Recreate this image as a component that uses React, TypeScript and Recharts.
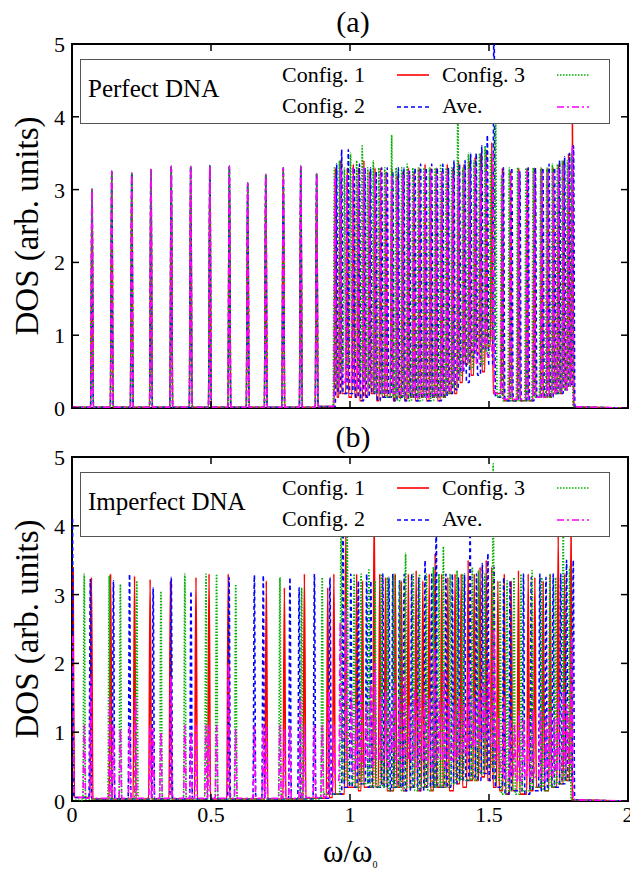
import React from "react";
import { LineChart, Line, XAxis, YAxis, ReferenceArea } from "recharts";

// [position (ω/ω0), peak height, floor after the peak]
type Peak = [number, number, number];

const xTicks = [0, 0.5, 1, 1.5, 2];
const yTicks = [0, 1, 2, 3, 4, 5];

// (a) perfect DNA: the low band is the same for every configuration
const perfectLow: Peak[] = [
  [0.072, 3.01, 0.01], [0.143, 3.25, 0.01], [0.215, 3.23, 0.01], [0.284, 3.28, 0.01],
  [0.357, 3.32, 0.01], [0.427, 3.32, 0.01], [0.496, 3.33, 0.01], [0.566, 3.32, 0.01],
  [0.632, 3.09, 0.01], [0.697, 3.21, 0.01], [0.76, 3.3, 0.01], [0.823, 3.32, 0.01],
  [0.88, 3.22, 0.02],
];

const perfectC1: Peak[] = [
  [0.948, 3.3, 0.15], [0.965, 3.4, 0.2], [0.99, 3.3, 0.15], [1.012, 3.35, 0.15],
  [1.03, 3.3, 0.1], [1.05, 3.4, 0.15], [1.07, 3.25, 0.2], [1.09, 3.3, 0.1],
  [1.11, 3.3, 0.15], [1.13, 3.25, 0.15], [1.15, 3.3, 0.1], [1.17, 3.2, 0.15],
  [1.19, 3.25, 0.1], [1.21, 3.3, 0.15], [1.23, 3.25, 0.1], [1.25, 3.3, 0.15],
  [1.27, 3.35, 0.1], [1.29, 3.3, 0.15], [1.31, 3.3, 0.1], [1.33, 3.25, 0.15],
  [1.35, 3.35, 0.2], [1.37, 3.3, 0.2], [1.39, 3.4, 0.35], [1.41, 3.35, 0.6],
  [1.43, 3.4, 0.45], [1.45, 3.45, 0.75], [1.47, 3.5, 0.5], [1.49, 3.55, 0.85],
  [1.51, 3.65, 0.2], [1.548, 3.3, 0.1], [1.578, 3.25, 0.1], [1.607, 3.3, 0.1],
  [1.637, 3.3, 0.1], [1.663, 3.3, 0.15], [1.69, 3.3, 0.15], [1.712, 3.3, 0.15],
  [1.732, 3.3, 0.2], [1.75, 3.35, 0.2], [1.768, 3.4, 0.25], [1.786, 3.5, 0.3],
  [1.8, 3.9, 0.02],
];

const perfectC2: Peak[] = [
  [0.952, 3.35, 0.2], [0.97, 3.55, 0.2], [0.994, 3.55, 0.2], [1.015, 3.3, 0.15],
  [1.034, 3.35, 0.1], [1.054, 3.3, 0.15], [1.074, 3.3, 0.2], [1.094, 3.25, 0.1],
  [1.114, 3.3, 0.15], [1.134, 3.3, 0.15], [1.154, 3.25, 0.1], [1.174, 3.3, 0.15],
  [1.194, 3.3, 0.1], [1.214, 3.25, 0.15], [1.234, 3.3, 0.1], [1.254, 3.35, 0.15],
  [1.274, 3.3, 0.1], [1.294, 3.35, 0.15], [1.314, 3.3, 0.1], [1.334, 3.35, 0.15],
  [1.354, 3.3, 0.2], [1.374, 3.4, 0.25], [1.394, 3.35, 0.5], [1.414, 3.4, 0.35],
  [1.434, 3.5, 0.7], [1.454, 3.5, 0.45], [1.474, 3.6, 0.8], [1.494, 3.75, 0.6],
  [1.518, 5.6, 0.15], [1.552, 3.3, 0.1], [1.582, 3.3, 0.1], [1.611, 3.25, 0.1],
  [1.641, 3.3, 0.1], [1.667, 3.3, 0.15], [1.694, 3.3, 0.15], [1.716, 3.35, 0.15],
  [1.736, 3.3, 0.2], [1.754, 3.4, 0.2], [1.772, 3.45, 0.25], [1.79, 3.5, 0.3],
  [1.804, 3.6, 0.02],
];

const perfectC3: Peak[] = [
  [0.944, 3.3, 0.3], [0.962, 3.4, 0.5], [0.98, 3.3, 0.6], [1.002, 3.5, 0.7],
  [1.024, 3.4, 0.5], [1.044, 3.6, 0.4], [1.064, 3.3, 0.3], [1.084, 3.4, 0.2],
  [1.104, 3.3, 0.2], [1.125, 3.3, 0.15], [1.15, 3.75, 0.15], [1.166, 3.3, 0.1],
  [1.186, 3.3, 0.15], [1.206, 3.35, 0.1], [1.226, 3.3, 0.15], [1.246, 3.3, 0.1],
  [1.266, 3.3, 0.15], [1.286, 3.3, 0.1], [1.306, 3.3, 0.15], [1.326, 3.35, 0.15],
  [1.346, 3.3, 0.2], [1.366, 3.3, 0.3], [1.388, 4.3, 0.45], [1.406, 3.3, 0.7],
  [1.426, 3.5, 0.55], [1.446, 3.4, 0.9], [1.466, 3.5, 0.6], [1.486, 3.6, 0.75],
  [1.506, 3.5, 0.95], [1.524, 4.0, 0.15], [1.545, 3.2, 0.1], [1.573, 3.3, 0.1],
  [1.603, 3.3, 0.1], [1.633, 3.3, 0.1], [1.659, 3.3, 0.15], [1.686, 3.3, 0.15],
  [1.708, 3.3, 0.15], [1.728, 3.35, 0.2], [1.746, 3.35, 0.2], [1.764, 3.4, 0.25],
  [1.782, 3.4, 0.3], [1.797, 3.5, 0.02],
];

const perfectAve: Peak[] = [
  [0.946, 3.2, 0.3], [0.966, 3.3, 0.35], [0.988, 3.2, 0.35], [1.01, 3.3, 0.3],
  [1.03, 3.2, 0.25], [1.05, 3.3, 0.25], [1.07, 3.2, 0.3], [1.09, 3.2, 0.2],
  [1.11, 3.25, 0.2], [1.13, 3.2, 0.2], [1.15, 3.2, 0.2], [1.17, 3.15, 0.2],
  [1.19, 3.2, 0.15], [1.21, 3.25, 0.2], [1.23, 3.2, 0.15], [1.25, 3.25, 0.2],
  [1.27, 3.25, 0.15], [1.29, 3.25, 0.2], [1.31, 3.2, 0.15], [1.33, 3.25, 0.2],
  [1.35, 3.25, 0.25], [1.37, 3.2, 0.35], [1.39, 3.2, 0.5], [1.41, 3.25, 0.65],
  [1.43, 3.3, 0.8], [1.45, 3.3, 0.6], [1.47, 3.3, 0.85], [1.49, 3.4, 0.7],
  [1.515, 3.5, 0.2], [1.548, 3.2, 0.12], [1.578, 3.25, 0.12], [1.607, 3.25, 0.12],
  [1.637, 3.25, 0.12], [1.663, 3.25, 0.15], [1.69, 3.25, 0.15], [1.712, 3.25, 0.18],
  [1.732, 3.25, 0.2], [1.75, 3.3, 0.22], [1.768, 3.35, 0.25], [1.786, 3.4, 0.3],
  [1.8, 3.6, 0.02],
];

// (b) imperfect DNA
const imperfectC1: Peak[] = [
  [0.004, 3.4, 0.05], [0.07, 3.25, 0.03], [0.139, 3.3, 0.03], [0.225, 3.27, 0.03],
  [0.281, 3.22, 0.03], [0.354, 3.2, 0.03], [0.446, 3.25, 0.03], [0.493, 3.3, 0.03],
  [0.562, 3.3, 0.03], [0.699, 3.2, 0.03], [0.764, 3.1, 0.03], [0.836, 3.3, 0.04],
  [0.92, 3.1, 0.05], [0.942, 3.3, 0.1],
  [0.985, 3.95, 0.2], [1.024, 3.3, 0.15], [1.045, 3.2, 0.2], [1.087, 4.3, 0.2],
  [1.107, 3.3, 0.25], [1.128, 3.25, 0.15], [1.163, 3.3, 0.2], [1.185, 3.2, 0.15],
  [1.21, 3.3, 0.2], [1.238, 3.35, 0.15], [1.262, 3.2, 0.2], [1.285, 3.3, 0.15],
  [1.306, 3.6, 0.2], [1.33, 3.3, 0.2], [1.352, 3.25, 0.15], [1.378, 3.3, 0.25],
  [1.4, 3.3, 0.2], [1.425, 3.5, 0.3], [1.447, 3.3, 0.3], [1.468, 3.4, 0.35],
  [1.49, 3.5, 0.3], [1.51, 3.4, 0.2], [1.532, 3.2, 0.15], [1.555, 3.3, 0.1],
  [1.58, 3.2, 0.15], [1.606, 3.35, 0.1], [1.641, 3.3, 0.15], [1.665, 3.25, 0.2],
  [1.695, 3.2, 0.15], [1.72, 3.3, 0.2], [1.749, 3.9, 0.25], [1.772, 3.3, 0.3],
  [1.795, 4.0, 0.02],
];

const imperfectC2: Peak[] = [
  [0.002, 4.1, 0.05], [0.066, 3.22, 0.03], [0.149, 3.2, 0.03], [0.207, 3.3, 0.03],
  [0.292, 3.1, 0.03], [0.357, 3.25, 0.03], [0.428, 3.05, 0.03], [0.565, 3.25, 0.03],
  [0.656, 3.28, 0.03], [0.688, 3.28, 0.03], [0.784, 3.25, 0.03], [0.817, 3.1, 0.03],
  [0.872, 3.3, 0.04], [0.928, 3.25, 0.1],
  [0.975, 4.1, 0.2], [1.003, 3.3, 0.2], [1.03, 3.2, 0.25], [1.06, 3.3, 0.2],
  [1.075, 3.2, 0.2], [1.118, 3.3, 0.2], [1.14, 3.25, 0.15], [1.154, 3.3, 0.2],
  [1.178, 3.2, 0.2], [1.195, 3.3, 0.15], [1.222, 3.3, 0.2], [1.247, 3.25, 0.15],
  [1.27, 3.5, 0.2], [1.294, 3.3, 0.2], [1.31, 4.1, 0.2], [1.345, 3.3, 0.2],
  [1.368, 3.3, 0.25], [1.39, 3.25, 0.3], [1.412, 3.3, 0.3], [1.432, 4.0, 0.35],
  [1.455, 3.3, 0.3], [1.476, 3.45, 0.4], [1.496, 3.6, 0.3], [1.518, 3.4, 0.2],
  [1.553, 3.25, 0.1], [1.576, 3.2, 0.15], [1.624, 3.3, 0.1], [1.652, 3.25, 0.15],
  [1.683, 3.3, 0.15], [1.705, 3.25, 0.2], [1.731, 3.3, 0.2], [1.758, 3.3, 0.25],
  [1.779, 3.5, 0.3], [1.803, 3.5, 0.02],
];

const imperfectC3: Peak[] = [
  [0.044, 3.3, 0.03], [0.134, 3.28, 0.03], [0.174, 3.15, 0.03], [0.233, 3.2, 0.03],
  [0.32, 3.05, 0.03], [0.406, 3.3, 0.03], [0.482, 3.3, 0.03], [0.52, 3.3, 0.03],
  [0.589, 3.15, 0.03], [0.748, 3.25, 0.03], [0.826, 3.1, 0.03], [0.9, 3.25, 0.1],
  [0.968, 4.4, 0.3], [0.99, 3.9, 0.25], [1.015, 3.3, 0.2], [1.04, 3.3, 0.25],
  [1.068, 3.36, 0.2], [1.09, 3.2, 0.2], [1.113, 3.3, 0.2], [1.135, 3.25, 0.15],
  [1.158, 3.3, 0.2], [1.18, 3.2, 0.15], [1.2, 3.6, 0.2], [1.228, 3.3, 0.15],
  [1.25, 3.3, 0.2], [1.275, 3.3, 0.15], [1.3, 3.4, 0.2], [1.32, 3.3, 0.2],
  [1.336, 3.7, 0.2], [1.36, 3.3, 0.25], [1.385, 3.35, 0.3], [1.405, 3.3, 0.3],
  [1.44, 3.4, 0.3], [1.462, 3.35, 0.4], [1.485, 3.3, 0.5], [1.515, 4.9, 0.3],
  [1.54, 3.2, 0.1], [1.565, 3.2, 0.15], [1.59, 3.25, 0.1], [1.615, 3.3, 0.15],
  [1.655, 3.35, 0.2], [1.69, 3.25, 0.15], [1.719, 3.3, 0.2], [1.74, 3.25, 0.25],
  [1.767, 4.0, 0.3], [1.79, 3.4, 0.02],
];

const imperfectAve: Peak[] = [
  [0.003, 2.4, 0.05], [0.044, 1.1, 0.04], [0.068, 1.8, 0.04], [0.136, 1.5, 0.04],
  [0.149, 1.1, 0.04], [0.174, 1.05, 0.04], [0.207, 1.1, 0.04], [0.229, 1.5, 0.04],
  [0.281, 1.1, 0.04], [0.292, 1.05, 0.04], [0.32, 1.0, 0.04], [0.356, 1.8, 0.04],
  [0.406, 1.1, 0.04], [0.428, 1.0, 0.04], [0.446, 1.1, 0.04], [0.482, 1.1, 0.04],
  [0.493, 1.1, 0.04], [0.52, 1.1, 0.04], [0.563, 2.0, 0.04], [0.589, 1.05, 0.04],
  [0.656, 1.1, 0.04], [0.688, 1.1, 0.04], [0.699, 1.1, 0.04], [0.748, 1.1, 0.04],
  [0.764, 1.05, 0.04], [0.784, 1.1, 0.04], [0.821, 1.5, 0.04], [0.836, 1.1, 0.05],
  [0.872, 1.1, 0.05], [0.9, 1.1, 0.06], [0.924, 1.6, 0.1], [0.942, 1.1, 0.3],
  [0.965, 2.6, 0.9], [0.985, 2.8, 0.6], [1.005, 1.6, 0.4], [1.022, 1.4, 0.5],
  [1.04, 1.6, 0.5], [1.058, 1.4, 0.6], [1.075, 1.7, 0.5], [1.09, 2.0, 0.6],
  [1.11, 1.5, 0.6], [1.128, 1.6, 0.5], [1.145, 1.3, 0.7], [1.16, 1.7, 0.6],
  [1.178, 1.5, 0.5], [1.196, 1.8, 0.6], [1.214, 1.4, 0.6], [1.232, 1.6, 0.5],
  [1.25, 1.5, 0.6], [1.268, 1.6, 0.6], [1.286, 1.5, 0.5], [1.304, 2.2, 0.6],
  [1.322, 1.5, 0.6], [1.338, 1.9, 0.5], [1.356, 1.5, 0.6], [1.374, 1.4, 0.6],
  [1.392, 1.5, 0.7], [1.41, 1.4, 0.7], [1.428, 2.0, 0.8], [1.446, 1.5, 0.8],
  [1.464, 1.6, 0.9], [1.482, 1.7, 0.9], [1.5, 2.0, 0.8], [1.518, 2.5, 0.6],
  [1.536, 1.2, 0.4], [1.555, 1.5, 0.3], [1.575, 1.2, 0.35], [1.592, 1.1, 0.3],
  [1.608, 1.3, 0.3], [1.625, 1.2, 0.35], [1.642, 1.2, 0.3], [1.658, 1.3, 0.35],
  [1.684, 1.3, 0.3], [1.705, 1.2, 0.35], [1.72, 1.3, 0.35], [1.735, 1.2, 0.4],
  [1.75, 1.6, 0.45], [1.768, 1.6, 0.5], [1.782, 1.4, 0.55], [1.798, 2.4, 0.02],
];

const SERIF = '"Liberation Serif", "Times New Roman", serif';
const HALF = 0.005;

const styles = [
  { name: "Config. 1", color: "#ff0000", dash: undefined as string | undefined },
  { name: "Config. 2", color: "#0000ff", dash: "4 3" },
  { name: "Config. 3", color: "#00b000", dash: "1.5 1.5" },
  { name: "Ave.", color: "#ff00ff", dash: "7 3 2 3" },
];

function trace(peaks: Peak[]) {
  const pts: { x: number; y: number }[] = [];
  let floor = 0.01;
  if (peaks[0][0] > HALF) pts.push({ x: 0, y: floor });
  for (const [p, h, f] of peaks) {
    if (p - HALF > 0) pts.push({ x: p - HALF, y: floor });
    pts.push({ x: p, y: h }, { x: p + HALF, y: f });
    floor = f;
  }
  pts.push({ x: 2, y: 0 });
  return pts;
}

const PLOT_LEFT = 72;
const PLOT_RIGHT = 628;

function makeXTick(top: number, labels: boolean) {
  return (props: any) => {
    const { x, y, payload } = props;
    return (
      <g>
        <line x1={x} x2={x} y1={y} y2={y - 7} stroke="#000" strokeWidth={1.5} />
        <line x1={x} x2={x} y1={top} y2={top + 7} stroke="#000" strokeWidth={1.5} />
        {labels && (
          <text x={x} y={y + 21} textAnchor="middle" fontSize={22} style={{ fontFamily: SERIF }} fill="#000">
            {payload.value}
          </text>
        )}
      </g>
    );
  };
}

function YTick(props: any) {
  const { y, payload } = props;
  return (
    <g>
      <line x1={PLOT_LEFT} x2={PLOT_LEFT + 7} y1={y} y2={y} stroke="#000" strokeWidth={1.5} />
      <line x1={PLOT_RIGHT - 7} x2={PLOT_RIGHT} y1={y} y2={y} stroke="#000" strokeWidth={1.5} />
      <text x={PLOT_LEFT - 7} y={y + 8} textAnchor="end" fontSize={22} style={{ fontFamily: SERIF }} fill="#000">
        {payload.value}
      </text>
    </g>
  );
}

function Panel({
  series, height, top, xAxisHeight, labels,
}: { series: Peak[][]; height: number; top: number; xAxisHeight: number; labels: boolean }) {
  return (
    <LineChart width={630} height={height} margin={{ top, right: 630 - PLOT_RIGHT, left: 0, bottom: 0 }}>
      <XAxis
        dataKey="x"
        type="number"
        domain={[0, 2]}
        ticks={xTicks}
        interval={0}
        allowDataOverflow
        axisLine={false}
        tickLine={false}
        tickSize={0}
        tickMargin={0}
        height={xAxisHeight}
        tick={makeXTick(top, labels)}
      />
      <YAxis
        type="number"
        domain={[0, 5]}
        ticks={yTicks}
        interval={0}
        allowDataOverflow
        axisLine={false}
        tickLine={false}
        tickSize={0}
        tickMargin={0}
        width={PLOT_LEFT}
        tick={<YTick />}
      />
      {series.map((peaks, i) => (
        <Line
          key={styles[i].name}
          data={trace(peaks)}
          dataKey="y"
          type="monotone"
          stroke={styles[i].color}
          strokeWidth={1.6}
          strokeDasharray={styles[i].dash}
          dot={false}
          activeDot={false}
          isAnimationActive={false}
        />
      ))}
      <ReferenceArea x1={0} x2={2} y1={0} y2={5} fill="none" stroke="#000" strokeWidth={2} fillOpacity={0} />
    </LineChart>
  );
}

const legendRows = [
  { label: "Config. 1", style: 0, col: 0, row: 0 },
  { label: "Config. 3", style: 2, col: 1, row: 0 },
  { label: "Config. 2", style: 1, col: 0, row: 1 },
  { label: "Ave.", style: 3, col: 1, row: 1 },
];

function LegendBox({ top, title }: { top: number; title: string }) {
  return (
    <svg width={530} height={65} style={{ position: "absolute", left: 80, top, fontFamily: SERIF }}>
      <rect x={0.5} y={0.5} width={529} height={64} fill="#fff" stroke="#555" strokeWidth={1} />
      <text x={8} y={38} fontSize={25} fill="#000">{title}</text>
      {legendRows.map((r) => {
        const tx = r.col === 0 ? 202 : 362;
        const lx = r.col === 0 ? 317 : 477;
        const base = r.row === 0 ? 23 : 54;
        const ly = r.row === 0 ? 16 : 48;
        const s = styles[r.style];
        return (
          <g key={r.label}>
            <text x={tx} y={base} fontSize={22} fill="#000">{r.label}</text>
            <line x1={lx} x2={lx + 32} y1={ly} y2={ly} stroke={s.color} strokeWidth={1.6} strokeDasharray={s.dash} />
          </g>
        );
      })}
    </svg>
  );
}

export default function App() {
  return (
    <div style={{ position: "absolute", left: 0, top: 0, width: 630, height: 871, background: "#fff" }}>
      <div style={{ position: "absolute", left: 0, top: 0 }}>
        <Panel
          series={[
            [...perfectLow, ...perfectC1],
            [...perfectLow, ...perfectC2],
            [...perfectLow, ...perfectC3],
            [...perfectLow, ...perfectAve],
          ]}
          height={430}
          top={44}
          xAxisHeight={22}
          labels={false}
        />
      </div>
      <div style={{ position: "absolute", left: 0, top: 430 }}>
        <Panel series={[imperfectC1, imperfectC2, imperfectC3, imperfectAve]} height={441} top={27} xAxisHeight={70} labels />
      </div>
      <svg width={630} height={871} style={{ position: "absolute", left: 0, top: 0, pointerEvents: "none", fontFamily: SERIF }}>
        <text x={353} y={32} fontSize={30} textAnchor="middle">(a)</text>
        <text x={353} y={447} fontSize={30} textAnchor="middle">(b)</text>
        <text transform="translate(38,226) rotate(-90)" fontSize={33} textAnchor="middle">DOS (arb. units)</text>
        <text transform="translate(38,629) rotate(-90)" fontSize={33} textAnchor="middle">DOS (arb. units)</text>
        <text x={323} y={862} fontSize={31}>
          ω/ω<tspan fontSize={10} dy={6}>0</tspan>
        </text>
      </svg>
      <LegendBox top={59} title="Perfect DNA" />
      <LegendBox top={472} title="Imperfect DNA" />
    </div>
  );
}
